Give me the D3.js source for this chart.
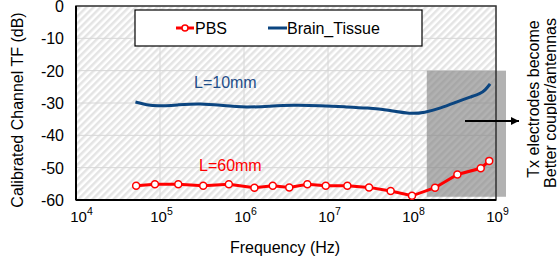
<!DOCTYPE html>
<html><head><meta charset="utf-8">
<script src="https://cdn.jsdelivr.net/npm/d3@7"></script>
<style>body{margin:0;background:#fff}svg{display:block;font-family:"Liberation Sans",Arial,sans-serif}</style>
</head><body>
<svg id="c" width="557" height="258"></svg>
<script>
// Data
const pbsFreq = [5.2e4, 8.7e4, 1.65e5, 3.27e5, 6.6e5, 1.33e6, 2.2e6, 3.46e6, 5.68e6, 9.4e6, 1.7e7, 3.08e7, 5.57e7, 1.0e8, 1.88e8, 3.47e8, 6.58e8, 8.3e8];
const pbsDb = [-55.6, -55.1, -55.1, -55.6, -55.1, -56.2, -55.6, -56.1, -55.1, -55.6, -55.6, -56.1, -57.2, -58.7, -56.2, -52.1, -50.2, -47.9];
const brainFreq = [5.1e4, 7e4, 9.1e4, 1.6e5, 3.0e5, 5.6e5, 1.07e6, 2.0e6, 3.9e6, 7.9e6, 1.6e7, 2.9e7, 5.6e7, 9.5e7, 1.4e8, 2.2e8, 3.4e8, 5.0e8, 6.5e8, 7.4e8, 8.5e8];
const brainDb = [-29.7, -30.6, -31.0, -30.6, -30.1, -30.8, -31.4, -31.0, -30.6, -30.8, -31.2, -31.5, -32.3, -33.4, -33.0, -31.6, -29.7, -28.1, -27.1, -26.1, -24.1];
const xTicks = [1e4, 1e5, 1e6, 1e7, 1e8, 1e9];
const yTicks = [0, -10, -20, -30, -40, -50, -60];
const seriesNames = ["PBS", "Brain_Tissue"];
const annoText = ["Tx electrodes become", "Better coupler/antennas"];
const regionStart = 1.5e8;

const svg = d3.select("#c");
const L = 76, R = 496, T = 6, B = 200;
const x = d3.scaleLog().domain([1e4, 1e9]).range([L, R]);
const y = d3.scaleLinear().domain([-60, 0]).range([B, T]);

const defs = svg.append("defs");
const pat = defs.append("pattern").attr("id", "hatch").attr("patternUnits", "userSpaceOnUse")
  .attr("width", 5).attr("height", 5).attr("patternTransform", "rotate(45)");
pat.append("rect").attr("width", 5).attr("height", 5).attr("fill", "#ffffff");
pat.append("rect").attr("width", 2.5).attr("height", 5).attr("fill", "#e4e4e4");

svg.append("rect").attr("x", L).attr("y", T).attr("width", R - L).attr("height", B - T).attr("fill", "url(#hatch)");

// grid
svg.append("g").selectAll("line").data(yTicks).join("line")
  .attr("x1", L).attr("x2", R).attr("y1", d => y(d)).attr("y2", d => y(d))
  .attr("stroke", "#d6d6d6").attr("stroke-width", 1);
svg.append("g").selectAll("line").data(xTicks).join("line")
  .attr("y1", T).attr("y2", B).attr("x1", d => x(d)).attr("x2", d => x(d))
  .attr("stroke", "#d6d6d6").attr("stroke-width", 1);

// gray region
svg.append("rect").attr("x", x(regionStart)).attr("y", y(-20)).attr("width", 506 - x(regionStart))
  .attr("height", y(-59) - y(-20)).attr("fill", "#7f7f7f").attr("opacity", 0.6);

// border
svg.append("rect").attr("x", L).attr("y", T).attr("width", R - L).attr("height", B - T)
  .attr("fill", "none").attr("stroke", "#333").attr("stroke-width", 1.5);
svg.append("line").attr("x1", L).attr("x2", R).attr("y1", B).attr("y2", B).attr("stroke", "#000").attr("stroke-width", 2);
svg.append("line").attr("x1", L).attr("x2", L).attr("y1", T).attr("y2", B).attr("stroke", "#000").attr("stroke-width", 2);

// axes labels
svg.append("g").selectAll("text").data(yTicks).join("text")
  .attr("x", 64).attr("y", d => y(d) + 6).attr("text-anchor", "end")
  .attr("font-size", 16).attr("fill", "#000").text(d => d);
const xl = svg.append("g").selectAll("text").data(xTicks).join("text")
  .attr("x", (d, i) => x(d) + (i === 0 ? 5.5 : 1.5)).attr("y", 222).attr("text-anchor", "middle").attr("font-size", 15).attr("fill", "#000");
xl.append("tspan").text("10");
xl.append("tspan").attr("dy", -7).attr("font-size", 10.5).text(d => Math.round(Math.log10(d)));

svg.append("text").attr("x", 285).attr("y", 252.5).attr("text-anchor", "middle").attr("font-size", 16).text("Frequency (Hz)");
svg.append("text").attr("transform", "translate(23,110) rotate(-90)").attr("text-anchor", "middle").attr("font-size", 16).text("Calibrated Channel TF (dB)");

// lines
const brainLine = d3.line().x(d => x(d[0])).y(d => y(d[1])).curve(d3.curveBasis);
svg.append("path").datum(d3.zip(brainFreq, brainDb)).attr("d", brainLine)
  .attr("fill", "none").attr("stroke", "#0b4580").attr("stroke-width", 3);

const pbsLine = d3.line().x(d => x(d[0])).y(d => y(d[1]));
svg.append("path").datum(d3.zip(pbsFreq, pbsDb)).attr("d", pbsLine)
  .attr("fill", "none").attr("stroke", "#ff0000").attr("stroke-width", 3);
svg.append("g").selectAll("circle").data(d3.zip(pbsFreq, pbsDb)).join("circle")
  .attr("cx", d => x(d[0])).attr("cy", d => y(d[1])).attr("r", 3.5)
  .attr("fill", "#fff").attr("stroke", "#ff0000").attr("stroke-width", 1.5);

// annotations
svg.append("text").attr("x", 194).attr("y", 88).attr("font-size", 16).attr("fill", "#1f4e89").text("L=10mm");
svg.append("text").attr("x", 199).attr("y", 171).attr("font-size", 16).attr("fill", "#ff0000").text("L=60mm");

// arrow
defs.append("marker").attr("id", "ah").attr("viewBox", "0 0 10 10").attr("refX", 10).attr("refY", 5)
  .attr("markerWidth", 5).attr("markerHeight", 4).attr("orient", "auto").attr("markerUnits", "strokeWidth")
  .append("path").attr("d", "M0,0L10,5L0,10z").attr("fill", "#000");
svg.append("line").attr("x1", 465).attr("x2", 519).attr("y1", 121).attr("y2", 121)
  .attr("stroke", "#000").attr("stroke-width", 2).attr("marker-end", "url(#ah)");

svg.append("g").selectAll("text").data(annoText).join("text")
  .attr("transform", (d, i) => `translate(${539 + i * 16.5},${99 + i * 4}) rotate(-90)`)
  .attr("text-anchor", "middle").attr("font-size", 16).text(d => d);

// legend
svg.append("rect").attr("x", 135).attr("y", 10).attr("width", 287).attr("height", 36)
  .attr("fill", "#fff").attr("stroke", "#000").attr("stroke-width", 1.2);
svg.append("line").attr("x1", 176).attr("x2", 194).attr("y1", 28).attr("y2", 28).attr("stroke", "#ff0000").attr("stroke-width", 3);
svg.append("circle").attr("cx", 185).attr("cy", 28).attr("r", 3).attr("fill", "#fff").attr("stroke", "#ff0000").attr("stroke-width", 1.5);
svg.append("text").attr("x", 195).attr("y", 34).attr("font-size", 16).text(seriesNames[0]);
svg.append("line").attr("x1", 268).attr("x2", 287).attr("y1", 28).attr("y2", 28).attr("stroke", "#0b4580").attr("stroke-width", 3);
svg.append("text").attr("x", 287).attr("y", 34).attr("font-size", 16).text(seriesNames[1]);
</script>
</body></html>
